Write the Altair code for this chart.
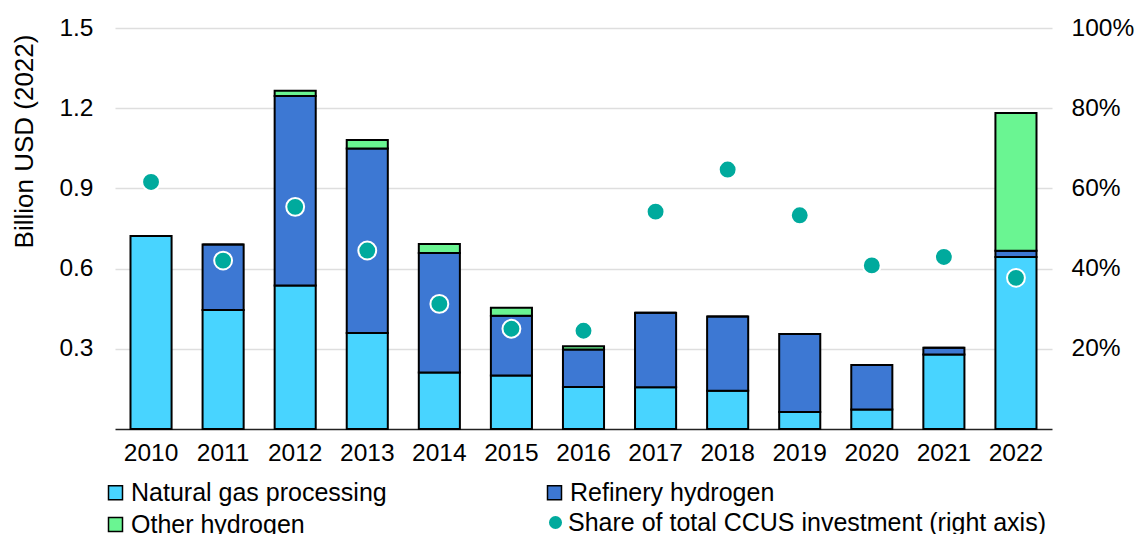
import altair as alt
import pandas as pd

years = ["2010", "2011", "2012", "2013", "2014", "2015", "2016",
         "2017", "2018", "2019", "2020", "2021", "2022"]
natural_gas = [0.722, 0.445, 0.537, 0.359, 0.211, 0.200, 0.157,
               0.156, 0.143, 0.064, 0.073, 0.279, 0.643]
refinery = [0.0, 0.245, 0.709, 0.690, 0.447, 0.224, 0.140,
            0.279, 0.278, 0.291, 0.166, 0.025, 0.024]
other = [0.0, 0.0, 0.019, 0.032, 0.034, 0.030, 0.013,
         0.0, 0.0, 0.0, 0.0, 0.0, 0.515]
share = [0.616, 0.420, 0.554, 0.445, 0.312, 0.250, 0.245,
         0.542, 0.647, 0.533, 0.408, 0.429, 0.377]

series_names = ["Natural gas processing", "Refinery hydrogen", "Other hydrogen"]
series_colors = ["#48D4FF", "#3D78D3", "#6AF592"]
share_name = "Share of total CCUS investment (right axis)"
share_color = "#00AA9D"

rows = []
for i, y in enumerate(years):
    for k, (name, vals) in enumerate(zip(series_names, [natural_gas, refinery, other])):
        rows.append({"year": y, "series": name, "value": vals[i], "ord": k})
bars_df = pd.DataFrame(rows)
share_df = pd.DataFrame({"year": years, "share": share, "label": [share_name] * len(years)})

FONT = "Liberation Sans"
FS = 24.5
LFS = 25

x_enc = alt.X(
    "year:N",
    sort=years,
    scale=alt.Scale(paddingInner=0.43, paddingOuter=0.215),
    axis=alt.Axis(title=None, labelAngle=0, ticks=False, domain=True,
                  domainColor="#222222", domainWidth=1.5,
                  labelFontSize=FS, labelFont=FONT, labelColor="#000000",
                  labelPadding=12),
)

bars = alt.Chart(bars_df).mark_bar(stroke="#000000", strokeWidth=2).encode(
    x=x_enc,
    y=alt.Y(
        "sum(value):Q",
        stack="zero",
        scale=alt.Scale(domain=[0, 1.5], nice=False),
        axis=alt.Axis(
            title="Billion USD (2022)",
            values=[0.3, 0.6, 0.9, 1.2, 1.5],
            format=".1f",
            ticks=False, domain=False,
            grid=True, gridColor="#DEDEDE", gridWidth=1.5,
            labelFontSize=FS, labelFont=FONT, labelColor="#000000",
            labelPadding=22,
            titleFontSize=26, titleFont=FONT, titleFontWeight="normal",
            titleColor="#000000", titlePadding=21, titleY=113,
        ),
    ),
    fill=alt.Fill(
        "series:N",
        scale=alt.Scale(domain=series_names, range=series_colors),
        legend=alt.Legend(
            title=None, orient="none", legendX=-12, legendY=452,
            direction="horizontal",
            columns=2, columnPadding=155, rowPadding=6,
            symbolType="square", symbolSize=196,
            symbolStrokeColor="#000000", symbolStrokeWidth=1.5,
            labelFontSize=LFS, labelFont=FONT, labelColor="#000000",
            labelOffset=3, labelLimit=600,
        ),
    ),
    order=alt.Order("ord:Q", sort="ascending"),
)

points = alt.Chart(share_df).mark_circle(
    size=320, stroke="#FFFFFF", strokeWidth=2, opacity=1
).encode(
    x=alt.X("year:N", sort=years),
    y=alt.Y(
        "share:Q",
        scale=alt.Scale(domain=[0, 1], nice=False),
        axis=alt.Axis(
            orient="right", title=None,
            values=[0.2, 0.4, 0.6, 0.8, 1.0], format=".0%",
            ticks=False, domain=False, grid=False,
            labelFontSize=FS, labelFont=FONT, labelColor="#000000",
            labelPadding=19,
        ),
    ),
    color=alt.Color(
        "label:N",
        scale=alt.Scale(domain=[share_name], range=[share_color]),
        legend=alt.Legend(
            title=None, orient="none", legendX=428, legendY=482,
            symbolType="circle", symbolSize=170, symbolStrokeWidth=0,
            labelFontSize=LFS, labelFont=FONT, labelColor="#000000",
            labelOffset=0, labelLimit=700,
        ),
    ),
)

chart = alt.layer(bars, points).resolve_scale(
    y="independent", fill="independent", color="independent"
).properties(
    width=937, height=401,
    autosize=alt.AutoSizeParams(type="none"),
    padding={"left": 107, "top": 20, "right": 83, "bottom": 105},
    background="#FFFFFF",
).configure_view(stroke=None)

chart.save("out.html", embed_options={"renderer": "svg", "actions": False})
